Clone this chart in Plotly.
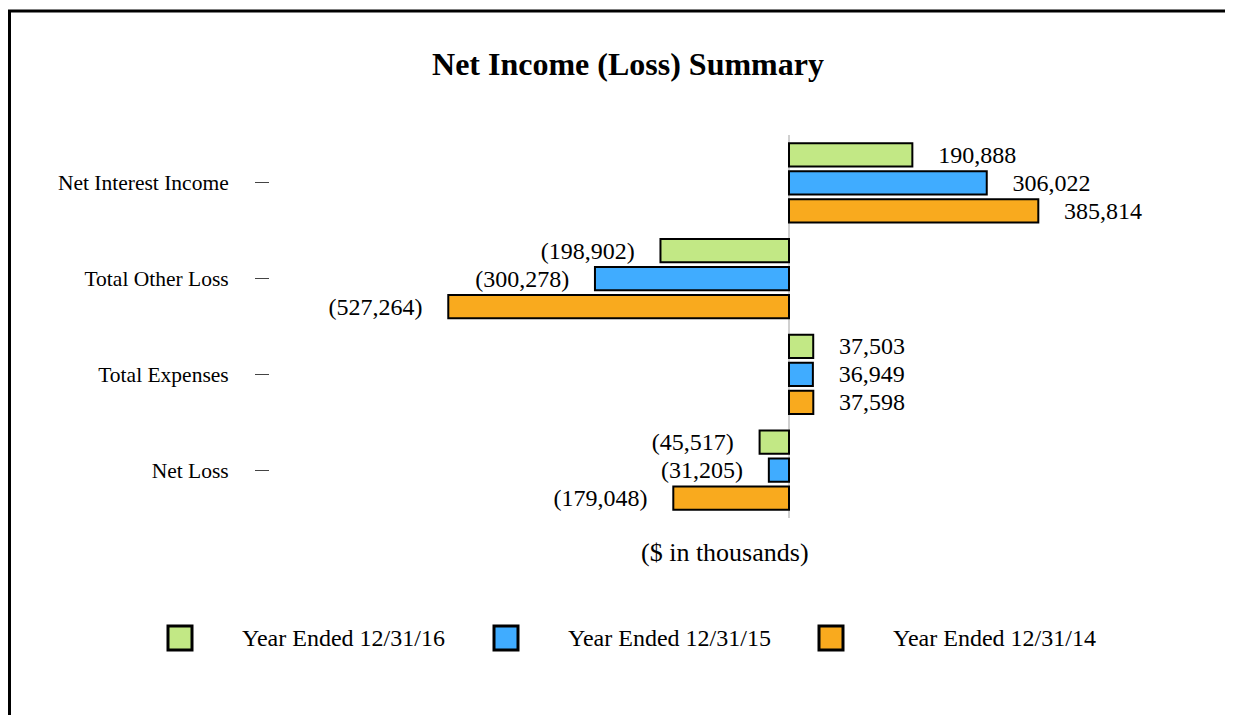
import plotly.graph_objects as go

categories = ["Net Interest Income", "Total Other Loss", "Total Expenses", "Net Loss"]
series_names = ["Year Ended 12/31/16", "Year Ended 12/31/15", "Year Ended 12/31/14"]
values_2016 = [190888, -198902, 37503, -45517]
values_2015 = [306022, -300278, 36949, -31205]
values_2014 = [385814, -527264, 37598, -179048]
series_values = [values_2016, values_2015, values_2014]
colors = ["#C2E885", "#40ACFF", "#F9AA1E"]

# page offset (default body margin of the html page)
OFF = 8
W, H = 1241, 715
# target plot area in page pixels
P_L, P_R, P_T, P_B = 270, 1180, 135, 518
ML, MT = P_L - OFF, P_T - OFF
MR, MB = W - (P_R - OFF), H - (P_B - OFF)
PW, PH = P_R - P_L, P_B - P_T
ZERO_PX, SCALE = 789, 0.0006462
FONT = "Liberation Serif, Times New Roman, serif"
GAP = "\u00a0" * 3 + "\u2009"


def fmt(v):
    s = f"{abs(v):,}"
    return GAP + s if v >= 0 else "(" + s + ")" + GAP


def px_x(p):
    return (p - P_L) / PW


def px_y(p):
    return (P_B - p) / PH


fig = go.Figure()
for name, vals, col in zip(series_names, series_values, colors):
    fig.add_trace(go.Bar(
        y=categories, x=vals, orientation="h", name=name,
        marker=dict(color=col, line=dict(color="black", width=2)),
        text=[fmt(v) for v in vals], textposition="outside",
        textfont=dict(family=FONT, size=24, color="black"),
        cliponaxis=False, constraintext="none", showlegend=False,
        hoverinfo="skip",
    ))

shapes = [
    dict(type="rect", xref="paper", yref="paper",
         x0=px_x(9.5), x1=px_x(1300), y0=px_y(11), y1=px_y(760),
         line=dict(color="black", width=3), layer="above"),
]
annotations = [
    dict(text="($ in thousands)", xref="paper", yref="paper", x=0.5, y=px_y(552),
         xanchor="center", yanchor="middle", showarrow=False,
         font=dict(family=FONT, size=26, color="black")),
]
leg_sq_x = [168, 494, 819]
leg_txt_x = [240, 566, 891]
for i, name in enumerate(series_names):
    shapes.append(dict(type="rect", xref="paper", yref="paper",
                       x0=px_x(leg_sq_x[i]), x1=px_x(leg_sq_x[i] + 24),
                       y0=px_y(626), y1=px_y(650),
                       fillcolor=colors[i], line=dict(color="black", width=3)))
    annotations.append(dict(text=name, xref="paper", yref="paper",
                            x=px_x(leg_txt_x[i]), y=px_y(638),
                            xanchor="left", yanchor="middle", showarrow=False,
                            font=dict(family=FONT, size=24, color="black")))

fig.update_layout(
    width=W, height=H,
    margin=dict(l=ML, r=MR, t=MT, b=MB, pad=0),
    paper_bgcolor="white", plot_bgcolor="white",
    barmode="group", bargap=0.125, bargroupgap=0.17,
    title=dict(text="<b>Net Income (Loss) Summary</b>", x=(628 - OFF) / W, xanchor="center",
               y=1 - (64 - OFF) / H, yanchor="middle", yref="container",
               font=dict(family=FONT, size=32, color="black")),
    xaxis=dict(range=[(P_L - ZERO_PX) / SCALE, (P_R - ZERO_PX) / SCALE],
               showgrid=False, showticklabels=False, ticks="",
               zeroline=True, zerolinecolor="#d0d0d0", zerolinewidth=2,
               showline=False, fixedrange=True),
    yaxis=dict(autorange="reversed", showgrid=False, showline=False,
               ticks="outside", ticklen=14, tickwidth=1, tickcolor="#444",
               ticklabelstandoff=22,
               tickfont=dict(family=FONT, size=21.5, color="black"), fixedrange=True),
    shapes=shapes, annotations=annotations,
    showlegend=False,
)

fig.write_html("out.html")
